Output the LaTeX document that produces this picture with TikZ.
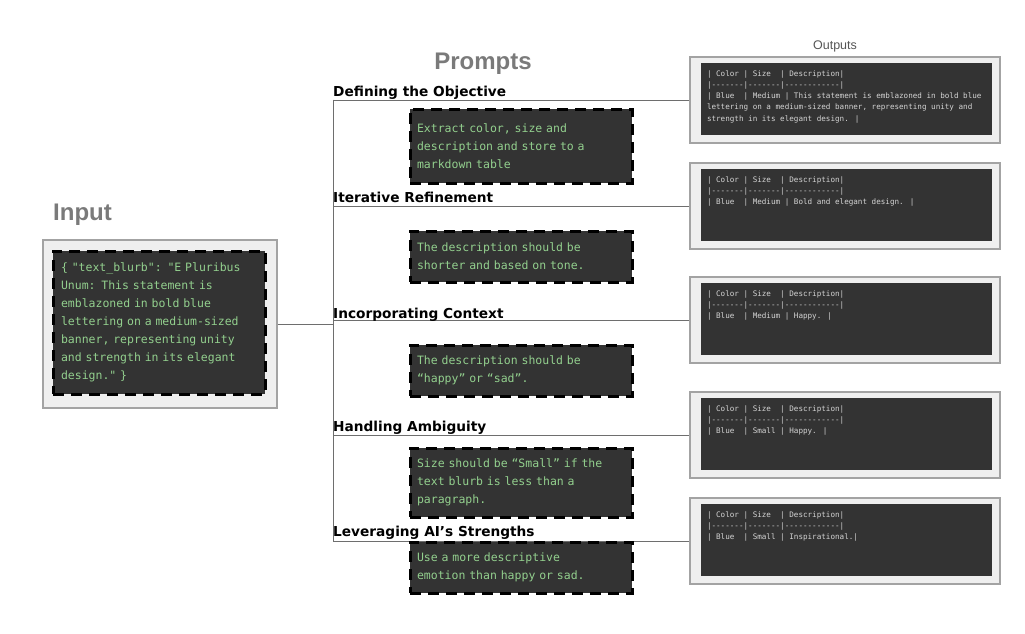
\documentclass[tikz,border=0pt]{standalone}
\usepackage{fontspec}
\setmainfont{Liberation Sans}
\newfontfamily\headfont{DejaVu Sans}
\newfontfamily\codefont{DejaVu Sans Mono}
\definecolor{panelfill}{HTML}{EFEFEF}
\definecolor{panelborder}{HTML}{A3A3A3}
\definecolor{darkfill}{HTML}{333333}
\definecolor{codegreen}{HTML}{93D08E}
\definecolor{codegray}{HTML}{D4D4D4}
\definecolor{titlegray}{HTML}{7A7A7A}
\definecolor{subgray}{HTML}{555555}
\definecolor{linegray}{HTML}{6E6E6E}
\tikzset{
  panel/.style={draw=panelborder, fill=panelfill, line width=1.2pt, inner sep=0pt},
  dashbox/.style={draw=black, fill=darkfill, line width=3pt, dash pattern=on 11pt off 7pt, inner sep=0pt,
     font=\codefont\fontsize{11.5}{18}\selectfont, text=codegreen, align=left},
  darkbox/.style={fill=darkfill, inner sep=0pt},
  outtext/.style={font=\codefont\fontsize{7.6}{11.2}\selectfont, text=codegray, align=left, inner sep=0pt, anchor=north west},
  heading/.style={font=\headfont\bfseries\fontsize{13.7}{16}\selectfont, anchor=base west, inner sep=0pt},
  link/.style={draw=linegray, line width=1pt},
  bigtitle/.style={font=\bfseries\fontsize{24}{28}\selectfont, text=titlegray, inner sep=0pt}
}
\begin{document}
\begin{tikzpicture}[x=1pt,y=-1pt]
\useasboundingbox[fill=white] (0,0) rectangle (1025,634);

% titles
\node[bigtitle, anchor=base west] (tinput) at (53,220) {Input};
\node[bigtitle, anchor=base] (tprompts) at (483,70) {Prompts};
\node[font=\fontsize{12.5}{14}\selectfont, text=subgray, anchor=base, inner sep=0pt] (toutputs) at (835,50) {Outputs};

% input
\node[panel, minimum width=234pt, minimum height=168pt] (inbox) at (160,324) {};
\node[dashbox, minimum width=212pt, minimum height=143pt, text width=196pt] (intext) at (159,322.5)
 {\{ "text\_blurb": "E Pluribus\\Unum: This statement is\\emblazoned in bold blue\\lettering on a medium-sized\\banner, representing unity\\and strength in its elegant\\design." \}};

% spine
\coordinate (sptop) at (333,99.5);
\coordinate (spbot) at (333,541);

% output panels
\foreach \i/\y in {1/100,2/206,3/320,4/435,5/541}{
  \node[panel, minimum width=310pt, minimum height=86pt] (out\i) at (845,\y) {};
  \node[darkbox, minimum width=291pt, minimum height=72pt] (outin\i) at (846.5,\y-1) {};
}
\node[outtext] (otext1) at ([shift={(6pt,-7.5pt)}]outin1.north west)
 {| Color | Size~~| Description|\\|-------|-------|------------|\\| Blue~~| Medium | This statement is emblazoned in bold blue\\lettering on a medium-sized banner, representing unity and\\strength in its elegant design. |};
\node[outtext] (otext2) at ([shift={(6pt,-7.5pt)}]outin2.north west)
 {| Color | Size~~| Description|\\|-------|-------|------------|\\| Blue~~| Medium | Bold and elegant design. |};
\node[outtext] (otext3) at ([shift={(6pt,-7.5pt)}]outin3.north west)
 {| Color | Size~~| Description|\\|-------|-------|------------|\\| Blue~~| Medium | Happy. |};
\node[outtext] (otext4) at ([shift={(6pt,-7.5pt)}]outin4.north west)
 {| Color | Size~~| Description|\\|-------|-------|------------|\\| Blue~~| Small | Happy. |};
\node[outtext] (otext5) at ([shift={(6pt,-7.5pt)}]outin5.north west)
 {| Color | Size~~| Description|\\|-------|-------|------------|\\| Blue~~| Small | Inspirational.|};

% connectors
\draw[link] (inbox.east) -- (inbox.east -| sptop);
\draw[link] (sptop) -- (spbot);
\foreach \i in {1,...,5}{
  \draw[link] (out\i.west -| sptop) -- (out\i.west);
}

% headings
\node[heading] (h1) at (333,96) {Defining the Objective};
\node[heading] (h2) at (333,202) {Iterative Refinement};
\node[heading] (h3) at (333,318) {Incorporating Context};
\node[heading] (h4) at (333,431) {Handling Ambiguity};
\node[heading] (h5) at (333,536) {Leveraging AI’s Strengths};

% prompt boxes
\node[dashbox, minimum width=222pt, minimum height=74pt, text width=208pt] (p1) at (521,146)
 {Extract color, size and\\description and store to a\\markdown table};
\node[dashbox, minimum width=222pt, minimum height=51pt, text width=208pt] (p2) at (521,256.5)
 {The description should be\\shorter and based on tone.};
\node[dashbox, minimum width=222pt, minimum height=51pt, text width=208pt] (p3) at (521,370.5)
 {The description should be\\“happy” or “sad”.};
\node[dashbox, minimum width=222pt, minimum height=69pt, text width=208pt] (p4) at (521,482.5)
 {Size should be “Small” if the\\text blurb is less than a\\paragraph.};
\node[dashbox, minimum width=222pt, minimum height=51pt, text width=208pt] (p5) at (521,567.5)
 {Use a more descriptive\\emotion than happy or sad.};
\end{tikzpicture}
\end{document}
